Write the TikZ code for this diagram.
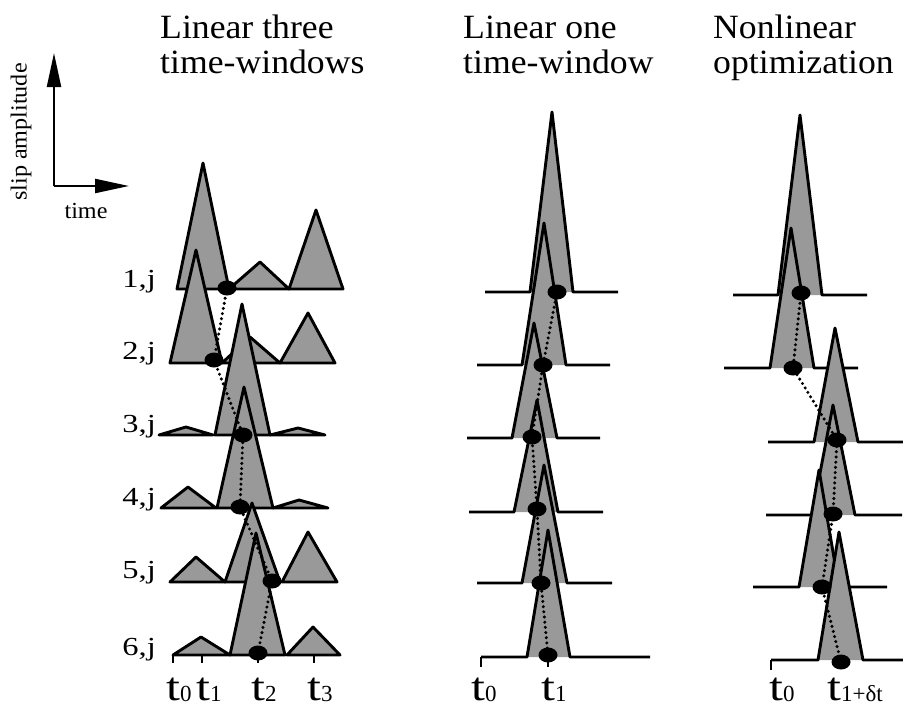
\documentclass[tikz,border=0pt]{standalone}
\usepackage{fontspec}
\setmainfont[FakeStretch=1.05]{Liberation Serif}
\newfontfamily\labfont[FakeStretch=1.25]{Liberation Serif}
\newfontfamily\subfont{Liberation Serif}
\usetikzlibrary{arrows.meta,shapes.geometric}
\newcommand{\tsub}[1]{\raisebox{-1pt}{\subfont\fontsize{23}{23}\selectfont #1}}
% triangle: base y, left x, apex x, apex y, right x
\newcommand{\Tri}[5]{\filldraw[tri] (#2,#1) -- (#3,#4) -- (#5,#1) -- cycle;}
% row with flat lines: base y, far-left, tri-left, apex x, apex y, tri-right, far-right
\newcommand{\FRow}[7]{\fill[trifill] (#3,#1) -- (#4,#5) -- (#6,#1) -- cycle;
  \draw[edge] (#2,#1) -- (#3,#1) -- (#4,#5) -- (#6,#1) -- (#7,#1);}
\begin{document}
\begin{tikzpicture}[x=1pt,y=-1pt,
  edge/.style={line width=2.9pt,line join=round},
  trifill/.style={fill=black!40},
  tri/.style={edge,trifill},
  dotn/.style={ellipse,fill=black,draw=none,minimum width=19pt,minimum height=15pt,inner sep=0pt},
  dotline/.style={line width=3.4pt,line cap=round,dash pattern=on 0pt off 5.2pt},
  title/.style={font=\fontsize{34}{36}\selectfont,anchor=base west,inner sep=0pt},
  rowlab/.style={font=\labfont\fontsize{26}{28}\selectfont,anchor=base east,inner sep=0pt},
  tlab/.style={font=\labfont\fontsize{40}{42}\selectfont,anchor=base west,inner sep=0pt},
  axlab/.style={font=\fontsize{23}{25}\selectfont,inner sep=0pt}]
\useasboundingbox (0,0) rectangle (903,707);

% ---- titles ----
\node[title] (ti1a) at (160,38) {Linear three};
\node[title] (ti1b) at (160,73) {time-windows};
\node[title] (ti2a) at (463,38) {Linear one};
\node[title] (ti2b) at (463,73) {time-window};
\node[title] (ti3a) at (713,38) {Nonlinear};
\node[title] (ti3b) at (713,73) {optimization};

% ---- axes legend ----
\coordinate (orig) at (54,186);
\coordinate (ytip) at (54,53);
\coordinate (xtip) at (129,186);
\draw[line width=2.2pt,-{Triangle[length=34pt,width=14pt]}] (orig) -- (ytip);
\draw[line width=2.2pt,-{Triangle[length=34pt,width=14pt]}] (orig) -- (xtip);
\node[axlab,rotate=90] (slip) at (21,132) {slip amplitude};
\node[axlab,anchor=base] (time) at (86,218) {time};

% ---- row labels ----
\node[rowlab] (r1) at (156,287) {1,j};
\node[rowlab] (r2) at (156,359) {2,j};
\node[rowlab] (r3) at (156,432) {3,j};
\node[rowlab] (r4) at (156,505) {4,j};
\node[rowlab] (r5) at (156,578) {5,j};
\node[rowlab] (r6) at (156,655) {6,j};

% ---- panel 1: linear three time-windows ----
\draw[edge] (177,289) -- (343,289);
\Tri{289}{177}{203}{163}{229}\Tri{289}{229}{260}{262}{289}\Tri{289}{289}{316}{210}{343}
\draw[edge] (170,363) -- (335,363);
\Tri{363}{170}{196}{250}{222}\Tri{363}{222}{250}{337}{280}\Tri{363}{280}{308}{313}{335}
\draw[edge] (159,435) -- (325,435);
\Tri{435}{159}{186}{427}{213}\Tri{435}{215}{242}{304}{270}\Tri{435}{270}{298}{428}{325}
\draw[edge] (161,508) -- (328,508);
\Tri{508}{161}{188}{487}{216}\Tri{508}{217}{244}{387}{273}\Tri{508}{273}{299}{500}{328}
\draw[edge] (170,582) -- (337,582);
\Tri{582}{170}{196}{557}{225}\Tri{582}{225}{252}{503}{280}\Tri{582}{282}{308}{532}{337}
\draw[edge] (172,655) -- (340,655);
\Tri{655}{173}{201}{637}{230}\Tri{655}{230}{256}{533}{285}\Tri{655}{287}{313}{627}{340}
\foreach \tx in {173,202,258,314} {\draw[edge] (\tx,655) -- (\tx,663);}

% ---- panel 2: linear one time-window ----
\FRow{292}{485}{530}{552}{112}{573}{618}
\FRow{365}{477}{522}{544}{223}{566}{610}
\FRow{438}{467}{512}{534}{323}{557}{600}
\FRow{512}{469}{514}{537}{400}{558}{603}
\FRow{583}{477}{522}{544}{465}{567}{612}
\FRow{657}{481}{527}{548}{530}{570}{650}
\draw[edge] (481,657) -- (481,667);
\draw[edge] (548,657) -- (548,667);

% ---- panel 3: nonlinear optimization ----
\FRow{295}{733}{778}{800}{115}{822}{867}
\FRow{368}{724}{770}{791}{228}{814}{858}
\FRow{442}{768}{814}{835}{328}{858}{903}
\FRow{515}{766}{812}{833}{405}{855}{902}
\FRow{587}{753}{799}{819}{470}{839}{887}
\FRow{660}{771}{818}{839}{532}{863}{903}
\draw[edge] (771,660) -- (771,670);

% ---- rupture-time points ----
\coordinate (a1) at (227,288); \coordinate (a2) at (214,360); \coordinate (a3) at (243,435);
\coordinate (a4) at (240,507); \coordinate (a5) at (272,581); \coordinate (a6) at (258,653);
\coordinate (b1) at (557,292); \coordinate (b2) at (543,365); \coordinate (b3) at (532,437);
\coordinate (b4) at (537,509); \coordinate (b5) at (541,583); \coordinate (b6) at (548,655);
\coordinate (c1) at (801,293); \coordinate (c2) at (793,368); \coordinate (c3) at (837,440);
\coordinate (c4) at (833,514); \coordinate (c5) at (822,587); \coordinate (c6) at (841,662);
\draw[dotline] (a1) -- (a2) -- (a3) -- (a4) -- (a5) -- (a6);
\draw[dotline] (b1) -- (b2) -- (b3) -- (b4) -- (b5) -- (b6);
\draw[dotline] (c1) -- (c2) -- (c3) -- (c4) -- (c5) -- (c6);
\foreach \p in {a,b,c} {\foreach \i in {1,...,6} {\node[dotn] (n\p\i) at (\p\i) {};}}

% ---- time labels ----
\node[tlab] (lt0) at (166,700) {t\tsub{0}};
\node[tlab] (lt1) at (196,700) {t\tsub{1}};
\node[tlab] (lt2) at (251,700) {t\tsub{2}};
\node[tlab] (lt3) at (307,700) {t\tsub{3}};
\node[tlab] (mt0) at (471,700) {t\tsub{0}};
\node[tlab] (mt1) at (541,700) {t\tsub{1}};
\node[tlab] (nt0) at (769,700) {t\tsub{0}};
\node[tlab] (nt1) at (827,700) {t\tsub{1+δt}};
\end{tikzpicture}
\end{document}
